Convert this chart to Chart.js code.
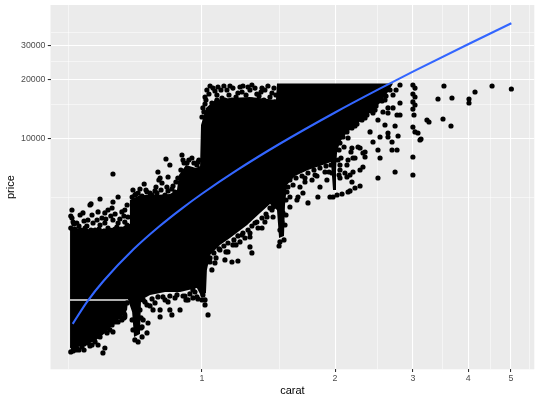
<!DOCTYPE html>
<html><head><meta charset="utf-8">
<script src="https://cdn.jsdelivr.net/npm/chart.js@4.4.1/dist/chart.umd.min.js"></script>
<style>html,body{margin:0;padding:0;background:#fff;}canvas{display:block;}</style>
</head><body>
<canvas id="c" width="540" height="400"></canvas>
<script>
// ---- axis ticks ----
const xTickValues = [0.5, 1, 1.5, 2, 2.5, 3, 3.5, 4, 4.5, 5, 5.5];
const xTickLabels = ['', '1', '', '2', '', '3', '', '4', '', '5', ''];
const yTickValues = [5000, 10000, 15000, 20000, 25000, 30000, 35000];
const yTickLabels = ['', '10000', '', '20000', '', '30000', ''];

// ---- smooth (lm) line ----
const smoothCarat = [0.51, 0.55, 0.6, 0.7, 0.8, 0.9, 1.0, 1.2, 1.5, 2.0, 2.5, 3.0, 4.0, 5.01];
const smoothPrice = [1140, 1480, 1895, 2735, 3575, 4415, 5255, 6935, 9455, 13655, 17855, 22055, 30455, 38940];

// ---- outline of the dense (solid black) mass of points ----
const massCarat = [0.503,0.530,0.573,0.619,0.659,0.684,0.687,0.724,0.783,0.846,0.878,0.887,0.920,0.969,0.990,
  0.995,1.021,1.070,1.157,1.284,1.410,1.470,1.478,2.705,2.635,2.528,2.412,2.301,2.184,2.106,2.052,2.021,2.010,2.010,
  1.979,1.958,1.849,1.737,1.623,1.557,1.541,1.533,1.494,1.478,1.425,1.353,1.265,1.157,1.098,1.043,1.026,1.021,
  0.995,0.974,0.892,0.825,0.763,0.728,0.724,0.702,0.695,0.684,0.680,0.503];
const massPrice = [3474,3514,3433,3514,3556,3684,4884,5179,5179,5240,5492,6551,7368,7112,7282,
  11790,14400,15810,16190,16380,16000,15810,19200,19200,17370,15260,13730,12500,11380,10480,9654,8584,6947,5492,
  5492,7632,7282,6947,6474,5825,4605,3200,3125,4342,4661,4193,3641,3125,2879,2560,2146,1638,
  1581,1737,1657,1657,1600,1509,1012,977,1311,1457,1520,1520];
// dense mass below the empty price band near 1500
const lowCarat = [0.503,0.680,0.677,0.652,0.626,0.600,0.573,0.544,0.516,0.503];
const lowPrice = [1496,1496,1342,1221,1125,1012,932,889,869,858];

// ---- individual points around the mass ----
const dotCarat = [
  0.508,0.505,0.511,0.521,0.530,0.538,0.544,0.558,0.564,0.573,0.582,0.588,0.603,0.603,0.613,0.613,0.629,0.629,0.642,0.646,
  0.646,0.659,0.669,0.669,0.680,0.552,0.588,0.516,0.626,0.677,0.629,0.561,
  0.698,0.717,0.740,0.751,0.763,0.771,0.791,0.795,0.799,0.804,0.812,0.829,0.833,0.838,0.846,0.869,0.892,0.901,0.906,0.925,
  0.939,0.964,0.974,0.860,0.705,0.732,0.825,0.949,0.984,
  1.016,1.026,1.043,1.070,1.087,1.016,1.053,1.032,1.000,1.110,1.139,1.169,1.206,1.219,1.251,1.271,1.297,1.331,1.367,1.381,
  1.410,1.440,1.463,1.157,1.098,1.005,
  1.032,1.016,1.005,0.974,0.954,1.005,1.043,1.053,1.070,1.098,1.127,1.169,1.206,1.175,1.219,1.232,1.284,1.297,1.284,1.318,
  1.367,1.403,1.425,1.448,1.440,1.448,1.501,1.501,1.517,1.525,1.494,1.533,1.145,
  1.581,1.649,1.737,1.829,1.640,1.692,1.581,1.565,1.666,1.774,1.849,1.917,1.948,1.968,2.052,1.802,1.898,1.710,
  1.979,2.021,2.074,2.140,2.219,2.278,2.162,2.052,2.128,2.162,2.196,2.278,2.313,2.106,2.184,2.338,2.278,2.184,2.196,2.140,
  2.128,2.313,2.338,2.254,2.173,2.219,2.437,2.528,2.635,2.501,2.528,2.501,2.691,2.691,2.734,2.762,2.777,2.734,2.762,2.805,
  2.705,2.635,2.705,2.635,2.501,2.437,2.567,2.805,2.635,2.400,2.805,2.748,2.594,
  3.000,3.033,3.000,3.033,3.000,3.033,3.000,3.017,3.000,3.033,3.080,3.113,3.000,3.000,3.527,3.419,3.677,4.018,4.018,4.146,
  4.531,5.010,3.228,3.262,3.509,3.658,3.129,
  0.804,0.804,0.846,0.855,0.892,0.906,0.869,0.825,0.783,0.751,0.724,0.736,0.732,0.755,0.751,0.705,0.717,0.677,0.663,0.669,
  0.954,0.979,0.732,0.930,0.775,
  0.505,0.511,0.521,0.527,0.535,0.552,0.597,0.603,0.573,0.588,0.610,0.629,0.613,0.636,0.659,0.669,0.558,0.541,0.582,0.619,
  0.646,0.666,
  // edge texture: band 3 lower edge
  1.440,1.396,1.367,1.331,1.297,1.271,1.238,1.206,1.181,1.145,1.121,1.093,1.064,1.043,1.021,1.251,1.194,1.133,1.076,1.339,
  1.388,1.284,
  // band 2 lower edge
  0.743,0.771,0.795,0.816,0.846,0.878,0.915,0.939,0.964,0.763,0.838,0.920,0.736,
  // band 5 diagonal edge
  2.663,2.608,2.554,2.476,2.424,2.362,2.301,2.242,2.184,2.128,2.084,2.052,2.594,2.463,2.338,2.219,2.140,2.096,2.042,2.031,
  2.063,2.042,2.052,
  // band 4 lower edge
  1.581,1.632,1.684,1.737,1.792,1.849,1.908,1.958,1.607,1.710,1.820,1.938,1.557,1.549,1.549,1.541,
  // band 3 upper edge
  1.010,1.021,1.037,1.059,1.081,1.104,1.121,1.151,1.175,1.194,1.232,1.258,1.284,1.318,1.346,1.360,1.388,1.425,1.455,1.470,
  1.238,1.127,1.297,1.081,1.181,1.410,
  // band 2 upper edge
  0.695,0.709,0.747,0.783,0.808,0.838,0.855,0.873,0.882,0.896,0.911,0.934,0.959,0.979,0.915,0.954,0.787,0.724,
  // band 1 upper edge
  0.505,0.513,0.527,0.541,0.549,0.567,0.579,0.594,0.606,0.622,0.636,0.652,0.666,0.677,0.508,0.585,0.636,0.532,0.561,0.600,
  0.656,
  // band 1 lower edge
  0.511,0.524,0.541,0.555,0.570,0.585,0.600,0.613,0.626,0.639,0.652,0.666,0.519,0.564,
  // 0.7 and 1.0 carat columns
  0.695,0.728,0.728,0.698,1.000,1.016];
const dotPrice = [
  4342,4046,3771,3727,4095,4193,3514,4605,4095,3433,4243,4942,4193,3727,4342,3514,4771,3861,3556,5058,
  3727,4243,4342,3771,3999,3861,3641,3474,4446,4605,6629,4661,
  5492,5302,5893,5365,5302,5179,5302,6786,6177,6324,5963,7907,5690,6398,7368,5365,5963,8286,7813,7543,
  6947,6324,7368,5757,5179,5119,5179,8000,7813,
  16380,17780,18640,17580,18420,15090,15260,13730,12950,16190,17780,15810,17170,18420,15450,18420,18860,16970,18200,15810,
  18640,17170,15450,18640,15090,14400,
  1265,1509,1600,1563,1697,2071,2357,2146,2330,2715,2414,2357,2385,2879,2982,3237,2812,2621,3162,3727,
  3514,3999,4446,4498,5058,3999,2982,3433,3771,4193,2845,3053,2652,
  4498,5058,4716,5058,4884,5302,5058,5690,5690,6177,5690,6177,5058,6707,6947,6551,6786,6324,
  5058,5179,5240,5365,5623,5757,5431,6324,6398,6551,6786,6947,7197,6707,6033,8584,8997,8997,8000,7813,
  7368,8484,8094,9103,8584,8000,9654,10240,10240,8788,8000,6324,9654,8788,6786,8788,10360,11650,13260,15260,
  16770,14400,14400,13570,12500,13570,13730,13260,10730,10860,18860,17780,11790,
  18860,18200,16970,16380,15450,14910,14220,13260,11510,10860,10730,9883,8094,6551,18640,16000,16190,16000,15260,17370,
  18640,17990,12500,12210,12650,11650,10000,
  1342,1236,1342,1265,1342,1581,1545,1509,1457,1423,1342,1193,1099,1151,1024,943,921,1457,1342,1265,
  1545,1527,977,1509,1342,
  819,829,858,838,869,911,810,858,921,977,1024,1036,1125,1165,1193,1236,879,838,889,1061,
  1165,1221,
  4342,4143,3953,3771,3598,3433,3314,3200,3053,2947,2845,2747,2621,2471,2330,3125,2879,2652,2471,3514,
  3771,3314,
  1474,1527,1563,1563,1581,1600,1581,1619,1657,1406,1474,1509,1509,
  17780,16570,15630,14740,13900,13260,12500,11930,11380,10860,10240,9541,15810,14060,12800,11650,10120,9103,8788,7813,
  8000,6551,7368,
  6177,6324,6474,6707,6947,7112,7282,7368,5825,6033,6474,6786,5365,4884,4095,3641,
  13730,15810,16970,18200,16770,17780,18640,16770,18200,16380,17370,16770,17780,18200,16570,17370,17780,16380,18200,16770,
  18640,15810,15810,15810,15090,15260,
  5058,5240,5492,5431,5492,5431,5557,6033,6324,6947,7543,7813,7543,7632,6551,6786,5690,5557,
  3514,3684,3598,3815,3598,3727,3861,3953,3907,4046,4143,3907,4046,3641,3953,3474,3474,3433,3433,3393,
  3474,
  869,900,900,943,965,1012,1048,1086,1125,1179,1236,1295,838,889,
  1193,1221,1086,1061,1509,1423];

const toXY = (xs, ys) => xs.map((x, i) => ({x: x, y: ys[i]}));
const FONT = '"Liberation Sans", Arial, Helvetica, sans-serif';

const panelBg = {
  id: 'panelBg',
  beforeDraw(chart) {
    const a = chart.chartArea, ctx = chart.ctx;
    ctx.save();
    ctx.fillStyle = '#EBEBEB';
    ctx.fillRect(a.left, a.top, a.right - a.left, a.bottom - a.top);
    ctx.restore();
  }
};

new Chart(document.getElementById('c'), {
  type: 'scatter',
  data: {
    datasets: [
      {type: 'line', label: 'smooth', data: toXY(smoothCarat, smoothPrice), borderColor: '#3366FF', borderWidth: 2.1,
        pointRadius: 0, fill: false, cubicInterpolationMode: 'monotone', order: 0},
      {type: 'scatter', label: 'points', data: toXY(dotCarat, dotPrice), backgroundColor: '#000000',
        borderWidth: 0, pointRadius: 2.6, pointHoverRadius: 2.6, order: 1},
      {type: 'line', label: 'mass', data: toXY(massCarat, massPrice), borderWidth: 0, borderColor: 'rgba(0,0,0,0)',
        backgroundColor: '#000000', pointRadius: 0, fill: 'shape', tension: 0, order: 2},
      {type: 'line', label: 'massLow', data: toXY(lowCarat, lowPrice), borderWidth: 0, borderColor: 'rgba(0,0,0,0)',
        backgroundColor: '#000000', pointRadius: 0, fill: 'shape', tension: 0, order: 2}
    ]
  },
  options: {
    responsive: false,
    animation: false,
    devicePixelRatio: 1,
    layout: {padding: {left: 0, right: 5.7, top: 5, bottom: 0}},
    plugins: {legend: {display: false}, tooltip: {enabled: false}},
    events: [],
    scales: {
      x: {
        type: 'logarithmic', min: 0.4543, max: 5.646, bounds: 'data',
        afterBuildTicks: s => { s.ticks = xTickValues.map(v => ({value: v})); },
        afterFit: s => { s.height = 30.7; s.paddingLeft = 0; s.paddingRight = 0; },
        border: {display: false},
        grid: {
          color: '#FFFFFF',
          lineWidth: c => (xTickLabels[c.index] ? 1.07 : 0.53),
          tickLength: 2.7,
          tickWidth: 1.07,
          tickColor: c => (xTickLabels[c.index] ? '#333333' : 'rgba(0,0,0,0)')
        },
        ticks: {autoSkip: false, maxRotation: 0, minRotation: 0, padding: 1.7, color: '#4D4D4D',
          font: {family: FONT, size: 8.8}, callback: (v, i) => xTickLabels[i]},
        title: {display: true, text: 'carat', color: '#000000', font: {family: FONT, size: 11},
          padding: {top: 0, bottom: 2.4}}
      },
      y: {
        type: 'logarithmic', min: 668, max: 48280, bounds: 'data',
        afterBuildTicks: s => { s.ticks = yTickValues.map(v => ({value: v})); },
        afterFit: s => { s.width = 50.5; s.paddingTop = 0; s.paddingBottom = 0; },
        border: {display: false},
        grid: {
          color: '#FFFFFF',
          lineWidth: c => (yTickLabels[c.index] ? 1.07 : 0.53),
          tickLength: 2.7,
          tickWidth: 1.07,
          tickColor: c => (yTickLabels[c.index] ? '#333333' : 'rgba(0,0,0,0)')
        },
        ticks: {autoSkip: false, padding: 2.3, color: '#4D4D4D',
          font: {family: FONT, size: 8.8}, callback: (v, i) => yTickLabels[i]},
        title: {display: true, text: 'price', color: '#000000', font: {family: FONT, size: 11},
          padding: {top: 4.4, bottom: 0}}
      }
    }
  },
  plugins: [panelBg]
});
</script>
</body></html>
